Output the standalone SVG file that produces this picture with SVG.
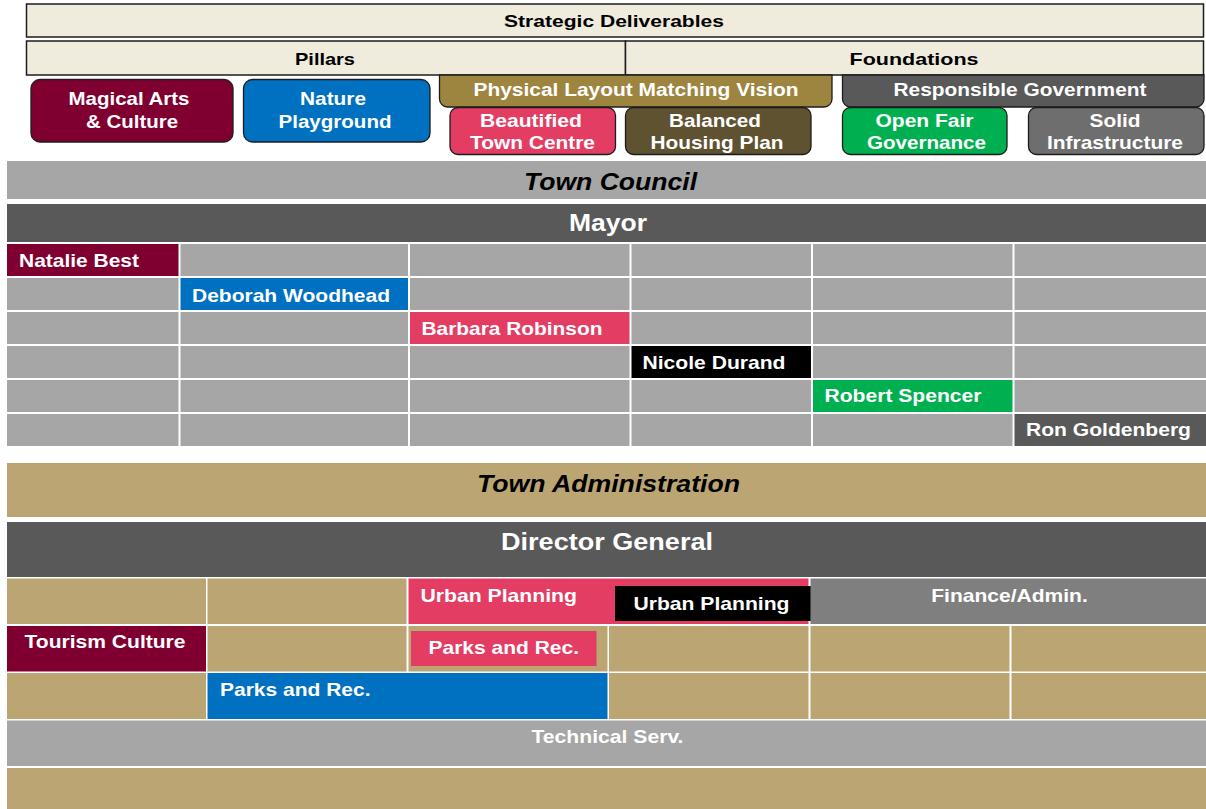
<svg xmlns="http://www.w3.org/2000/svg" width="1206" height="809" viewBox="0 0 1206 809">
<style>
text{font-family:"Liberation Sans",Arial,sans-serif;font-weight:bold}
.w{fill:#fff}
.k{fill:#000}
.m{text-anchor:middle}
.hdr{font-size:17px}
.pill{font-size:18.5px}
.nm{font-size:18.5px}
.big{font-size:24px}
.it{font-style:italic}
.bx{stroke:#1c1c1c;stroke-width:1.3}
.tbx{fill:#EFEBDD;stroke:#1c1c1c;stroke-width:1.5}
.g{fill:#A6A6A6}
.dg{fill:#595959}
.tan{fill:#BAA573}
.mar{fill:#7F0030}
.blu{fill:#0070C0}
.pnk{fill:#E33D63}
.blk{fill:#000}
.grn{fill:#00B050}
.mg{fill:#7F7F7F}
</style>
<rect width="1206" height="809" fill="#fff"/>

<g id="strategic-deliverables">
<rect class="tbx" x="26.5" y="4" width="1177" height="33"/>
<text class="k m hdr" x="614" y="27" textLength="220" lengthAdjust="spacingAndGlyphs">Strategic Deliverables</text>
</g>
<g id="pillars">
<rect class="tbx" x="26.5" y="41" width="599" height="34"/>
<text class="k m hdr" x="325" y="65" textLength="60" lengthAdjust="spacingAndGlyphs">Pillars</text>
</g>
<g id="foundations">
<rect class="tbx" x="625.5" y="41" width="578" height="34"/>
<text class="k m hdr" x="914" y="65" textLength="129" lengthAdjust="spacingAndGlyphs">Foundations</text>
</g>

<g id="magical-arts">
<rect class="bx mar" x="31" y="79.5" width="202" height="62.5" rx="9"/>
<text class="w m pill" x="129" y="105" textLength="121" lengthAdjust="spacingAndGlyphs">Magical Arts</text>
<text class="w m pill" x="132" y="128" textLength="92" lengthAdjust="spacingAndGlyphs">&amp; Culture</text>
</g>
<g id="nature-playground">
<rect class="bx blu" x="243.5" y="79.5" width="186.5" height="62.5" rx="9"/>
<text class="w m pill" x="333" y="105" textLength="66" lengthAdjust="spacingAndGlyphs">Nature</text>
<text class="w m pill" x="335" y="128" textLength="113" lengthAdjust="spacingAndGlyphs">Playground</text>
</g>
<g id="physical-layout">
<path class="bx" fill="#9E853F" d="M439.5,75 H832 V99 A8,8 0 0 1 824,107 H447.5 A8,8 0 0 1 439.5,99 Z"/>
<text class="w m pill" x="636" y="95.5" textLength="325" lengthAdjust="spacingAndGlyphs">Physical Layout Matching Vision</text>
</g>
<g id="beautified-town-centre">
<rect class="bx pnk" x="450" y="107.5" width="165.5" height="47" rx="8"/>
<text class="w m pill" x="531" y="127" textLength="102" lengthAdjust="spacingAndGlyphs">Beautified</text>
<text class="w m pill" x="532.5" y="149" textLength="125" lengthAdjust="spacingAndGlyphs">Town Centre</text>
</g>
<g id="balanced-housing">
<rect class="bx" fill="#5F5230" x="625.5" y="107.5" width="185.5" height="47" rx="8"/>
<text class="w m pill" x="715" y="127" textLength="92" lengthAdjust="spacingAndGlyphs">Balanced</text>
<text class="w m pill" x="717" y="149" textLength="133" lengthAdjust="spacingAndGlyphs">Housing Plan</text>
</g>
<g id="responsible-government">
<path class="bx dg" d="M842.5,75 H1204 V99 A8,8 0 0 1 1196,107 H850.5 A8,8 0 0 1 842.5,99 Z"/>
<text class="w m pill" x="1020" y="95.5" textLength="253" lengthAdjust="spacingAndGlyphs">Responsible Government</text>
</g>
<g id="open-fair-governance">
<rect class="bx grn" x="842.5" y="107.5" width="164.5" height="47" rx="8"/>
<text class="w m pill" x="924.5" y="127" textLength="98" lengthAdjust="spacingAndGlyphs">Open Fair</text>
<text class="w m pill" x="926.5" y="149" textLength="119" lengthAdjust="spacingAndGlyphs">Governance</text>
</g>
<g id="solid-infrastructure">
<rect class="bx" fill="#6E6E6E" x="1028.5" y="107.5" width="175.5" height="47" rx="8"/>
<text class="w m pill" x="1115" y="127" textLength="51" lengthAdjust="spacingAndGlyphs">Solid</text>
<text class="w m pill" x="1115" y="149" textLength="136" lengthAdjust="spacingAndGlyphs">Infrastructure</text>
</g>

<g id="town-council">
<rect class="g" x="7" y="161" width="1199" height="38"/>
<text class="k m big it" x="610.5" y="190" textLength="173" lengthAdjust="spacingAndGlyphs">Town Council</text>
</g>
<g id="mayor">
<rect class="dg" x="7" y="204" width="1199" height="38"/>
<text class="w m big" x="608" y="231" textLength="78" lengthAdjust="spacingAndGlyphs">Mayor</text>
</g>

<g id="council-grid">
<g class="g">
<rect x="180.5" y="244" width="227.5" height="32"/><rect x="410" y="244" width="219.5" height="32"/><rect x="631.5" y="244" width="179.5" height="32"/><rect x="813" y="244" width="199.5" height="32"/><rect x="1014.5" y="244" width="191.5" height="32"/>
<rect x="7" y="278" width="171.5" height="32"/><rect x="410" y="278" width="219.5" height="32"/><rect x="631.5" y="278" width="179.5" height="32"/><rect x="813" y="278" width="199.5" height="32"/><rect x="1014.5" y="278" width="191.5" height="32"/>
<rect x="7" y="312" width="171.5" height="32"/><rect x="180.5" y="312" width="227.5" height="32"/><rect x="631.5" y="312" width="179.5" height="32"/><rect x="813" y="312" width="199.5" height="32"/><rect x="1014.5" y="312" width="191.5" height="32"/>
<rect x="7" y="346" width="171.5" height="32"/><rect x="180.5" y="346" width="227.5" height="32"/><rect x="410" y="346" width="219.5" height="32"/><rect x="813" y="346" width="199.5" height="32"/><rect x="1014.5" y="346" width="191.5" height="32"/>
<rect x="7" y="380" width="171.5" height="32"/><rect x="180.5" y="380" width="227.5" height="32"/><rect x="410" y="380" width="219.5" height="32"/><rect x="631.5" y="380" width="179.5" height="32"/><rect x="1014.5" y="380" width="191.5" height="32"/>
<rect x="7" y="414" width="171.5" height="32"/><rect x="180.5" y="414" width="227.5" height="32"/><rect x="410" y="414" width="219.5" height="32"/><rect x="631.5" y="414" width="179.5" height="32"/><rect x="813" y="414" width="199.5" height="32"/>
</g>
</g>
<g id="natalie-best">
<rect class="mar" x="7" y="244" width="171.5" height="32"/>
<text class="w nm" x="19" y="267" textLength="120" lengthAdjust="spacingAndGlyphs">Natalie Best</text>
</g>
<g id="deborah-woodhead">
<rect class="blu" x="180.5" y="278" width="227.5" height="32"/>
<text class="w nm" x="192" y="301.5" textLength="198" lengthAdjust="spacingAndGlyphs">Deborah Woodhead</text>
</g>
<g id="barbara-robinson">
<rect class="pnk" x="410" y="312" width="219.5" height="32"/>
<text class="w nm" x="421.5" y="335" textLength="181" lengthAdjust="spacingAndGlyphs">Barbara Robinson</text>
</g>
<g id="nicole-durand">
<rect class="blk" x="631.5" y="346" width="179.5" height="32"/>
<text class="w nm" x="642.5" y="368.5" textLength="143" lengthAdjust="spacingAndGlyphs">Nicole Durand</text>
</g>
<g id="robert-spencer">
<rect class="grn" x="813" y="380" width="199.5" height="32"/>
<text class="w nm" x="824.5" y="402" textLength="157" lengthAdjust="spacingAndGlyphs">Robert Spencer</text>
</g>
<g id="ron-goldenberg">
<rect class="dg" x="1014.5" y="414" width="191.5" height="32"/>
<text class="w nm" x="1026" y="436" textLength="165" lengthAdjust="spacingAndGlyphs">Ron Goldenberg</text>
</g>

<g id="town-administration">
<rect class="tan" x="7" y="463" width="1199" height="54"/>
<text class="k m big it" x="608.5" y="492" textLength="263" lengthAdjust="spacingAndGlyphs">Town Administration</text>
</g>
<g id="director-general">
<rect class="dg" x="7" y="522" width="1199" height="55"/>
<text class="w m big" x="607" y="550" textLength="212" lengthAdjust="spacingAndGlyphs">Director General</text>
</g>

<g id="admin-grid">
<g class="tan">
<rect x="7" y="578.5" width="199" height="45.5"/><rect x="207.5" y="578.5" width="199" height="45.5"/>
<rect x="207.5" y="626" width="199" height="45.5"/><rect x="408.5" y="626" width="199" height="45.5"/><rect x="609" y="626" width="199.5" height="45.5"/><rect x="810.5" y="626" width="199" height="45.5"/><rect x="1011.5" y="626" width="194.5" height="45.5"/>
<rect x="7" y="673" width="199" height="46"/><rect x="609" y="673" width="199.5" height="46"/><rect x="810.5" y="673" width="199" height="46"/><rect x="1011.5" y="673" width="194.5" height="46"/>
</g>
</g>
<g id="urban-planning">
<rect class="pnk" x="408.5" y="578.5" width="400" height="45.5"/>
<text class="w nm" x="420.5" y="601.5" textLength="156.5" lengthAdjust="spacingAndGlyphs">Urban Planning</text>
</g>
<g id="urban-planning-black">
<rect class="blk" x="615" y="586" width="197" height="35"/>
<text class="w nm" x="633.5" y="610" textLength="156" lengthAdjust="spacingAndGlyphs">Urban Planning</text>
</g>
<g id="finance-admin">
<rect class="mg" x="810.5" y="578.5" width="395.5" height="45.5"/>
<text class="w m nm" x="1009.5" y="601.5" textLength="156.5" lengthAdjust="spacingAndGlyphs">Finance/Admin.</text>
</g>
<g id="tourism-culture">
<rect class="mar" x="7" y="626" width="199" height="45.5"/>
<text class="w nm" x="24.5" y="648" textLength="161" lengthAdjust="spacingAndGlyphs">Tourism Culture</text>
</g>
<g id="parks-rec-pink">
<rect class="pnk" x="411" y="631" width="185.5" height="35"/>
<text class="w nm" x="428.5" y="654" textLength="150.5" lengthAdjust="spacingAndGlyphs">Parks and Rec.</text>
</g>
<g id="parks-rec-blue">
<rect class="blu" x="207.5" y="673" width="400" height="46"/>
<text class="w nm" x="220" y="696" textLength="150.5" lengthAdjust="spacingAndGlyphs">Parks and Rec.</text>
</g>
<g id="technical-serv">
<rect class="g" x="7" y="720.5" width="1199" height="45.5"/>
<text class="w m nm" x="607.5" y="743" textLength="152" lengthAdjust="spacingAndGlyphs">Technical Serv.</text>
</g>
<g id="bottom-band">
<rect class="tan" x="7" y="768" width="1199" height="41"/>
</g>
<g id="connectors"></g>
</svg>
